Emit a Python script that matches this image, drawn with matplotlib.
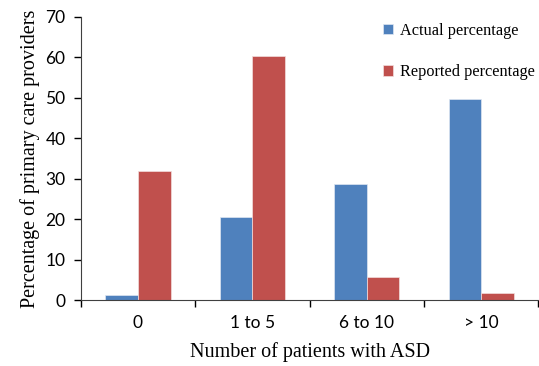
import matplotlib
matplotlib.use("Agg")
import matplotlib.pyplot as plt
import numpy as np

categories = ["0", "1 to 5", "6 to 10", "> 10"]
actual = [1.2, 20.6, 28.6, 49.6]
reported = [32.0, 60.3, 5.6, 1.7]

plt.rcParams['font.family'] = ['Liberation Serif', 'DejaVu Serif']
tickfont = ['Lato', 'DejaVu Sans']

fig = plt.figure(figsize=(5.39, 3.66), dpi=100)
ax = fig.add_axes([0.1497, 0.1803, 0.8493, 0.7737])

x = np.arange(len(categories))
w = 0.285
ax.bar(x - w/2, actual, w, color='#4F81BD', edgecolor='#dfe7f2', linewidth=0.5, label='Actual percentage')
ax.bar(x + w/2, reported, w, color='#C0504D', edgecolor='#f2dede', linewidth=0.5, label='Reported percentage')

ax.set_xlim(-0.5, len(categories) - 0.5)
ax.set_ylim(0, 70)
ax.set_yticks(range(0, 71, 10))
ax.set_yticklabels([str(v) for v in range(0, 71, 10)], family=tickfont, fontsize=12.5)
ax.set_xticks(x)
ax.set_xticklabels(categories, family=tickfont, fontsize=12.5)
ax.set_xticks(np.arange(-0.5, len(categories), 1.0), minor=True)
ax.tick_params(axis='x', which='major', length=0, pad=11)
ax.tick_params(axis='x', which='minor', length=5, direction='out', width=1)
ax.tick_params(axis='y', length=5, direction='out', width=1, pad=6)
for s in ['top', 'right']:
    ax.spines[s].set_visible(False)
ax.spines['left'].set_color('#404040')
ax.spines['bottom'].set_color('#404040')

ax.set_xlabel('Number of patients with ASD', fontsize=14.5, labelpad=8)
ax.set_ylabel('Percentage of primary care providers', fontsize=14.5, labelpad=4)

leg = ax.legend(loc='upper left', bbox_to_anchor=(0.628, 1.03), frameon=False,
                fontsize=11.7, handlelength=0.6, handleheight=0.6, handletextpad=0.45,
                labelspacing=1.55)

fig.savefig('out.png', dpi=100)
